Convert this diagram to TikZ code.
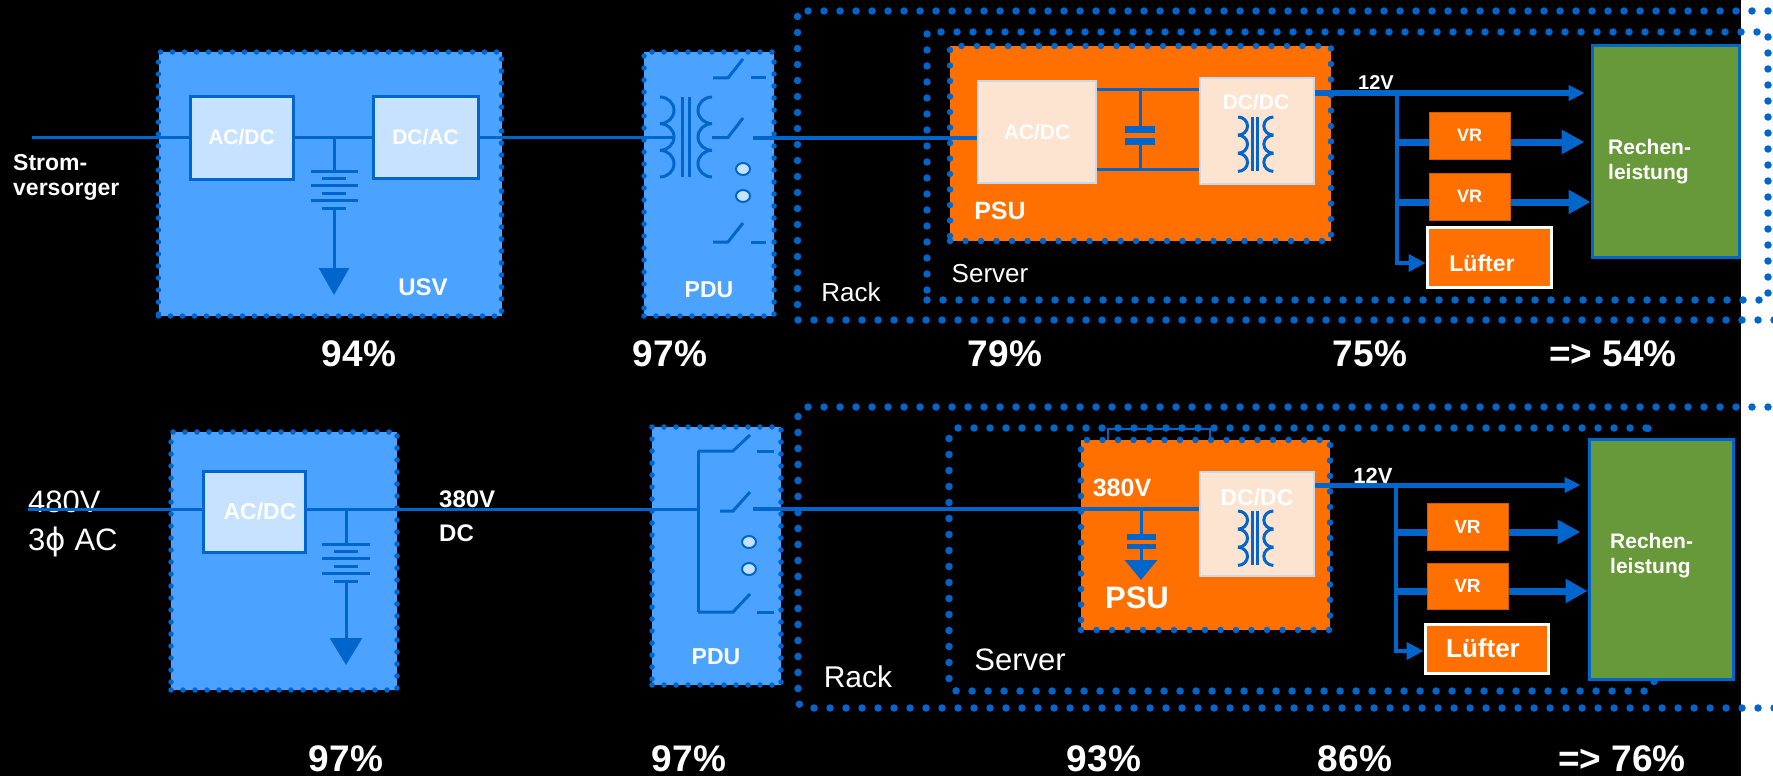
\documentclass[tikz,border=0pt]{standalone}
\usepackage{fontspec}
\setmainfont{Liberation Sans}
\newfontfamily\phifont{DejaVu Sans}
\usetikzlibrary{arrows.meta}

\definecolor{upsblue}{RGB}{75,163,255}
\definecolor{lineblue}{RGB}{0,102,204}
\definecolor{paleblue}{RGB}{198,226,255}
\definecolor{psuorange}{RGB}{255,112,0}
\definecolor{peach}{RGB}{253,228,208}
\definecolor{peachline}{RGB}{197,217,241}
\definecolor{cpugreen}{RGB}{103,153,58}

% transformer symbol: x, y of top left corner, scale
\newcommand{\trafo}[3]{%
  \begin{scope}[shift={(#1,#2)},scale=#3]
    \foreach \k in {0,1,2}{%
      \draw[wire] (0,-26.67*\k) arc[start angle=90,end angle=-90,x radius=14,y radius=13.33];
      \draw[wire] (52,-26.67*\k) arc[start angle=90,end angle=270,x radius=14,y radius=13.33];
    }
    \draw[wire] (22,0) -- (22,-80);
    \draw[wire] (29,0) -- (29,-80);
  \end{scope}}

% battery: x, y of first plate, half width of long plates
\newcommand{\battery}[3]{%
  \foreach \k in {0,1,2}{%
    \draw[wire] (#1-#3,#2-14.8*\k) -- (#1+#3,#2-14.8*\k);
    \draw[wire] (#1-12,#2-7.4-14.8*\k) -- (#1+12,#2-7.4-14.8*\k);
  }}

\begin{document}
\begin{tikzpicture}[x=1pt,y=1pt,
    wire/.style={draw=lineblue,line width=3pt},
    upsbox/.style={fill=upsblue,draw=lineblue,line width=5.5pt,dash pattern=on 0pt off 12pt,line cap=round},
    psubox/.style={fill=psuorange,draw=lineblue,line width=6.5pt,dash pattern=on 0pt off 15.5pt,line cap=round},
    housing/.style={draw=lineblue,line width=7.5pt,dash pattern=on 0pt off 16pt,line cap=round},
    conv/.style={fill=paleblue,draw=lineblue,line width=3pt},
    peachbox/.style={fill=peach,draw=peachline,line width=2pt},
    vrbox/.style={fill=psuorange,draw=psuorange!80!black,line width=1pt},
    fanbox/.style={fill=psuorange,draw=white,line width=3pt},
    cpubox/.style={fill=cpugreen,draw=lineblue,line width=3pt},
    btxt/.style={font=\fontsize{#1}{#1}\selectfont\bfseries},
    rtxt/.style={font=\fontsize{#1}{#1}\selectfont},
    pct/.style={font=\fontsize{37}{37}\selectfont\bfseries}]
\tikzstyle{every node}+=[inner sep=0pt,text=white]
  \useasboundingbox (0,0) rectangle (1773,-776);
  \fill[black] (0,0) rectangle (1741,-776);
  \fill[white] (1741,0) rectangle (1773,-776);
  \clip (0,0) rectangle (1773,-776);

  % ---------- upper row: AC distribution ----------
  \draw[housing] (1800,-11) -- (797.5,-11) -- (797.5,-320) -- (1800,-320);
  \node[housing,minimum width=841,minimum height=268] (server1) at (1347.5,-166) {};
  \node[upsbox,minimum width=343,minimum height=264] (usv1) at (330,-184) {};
  \node[upsbox,minimum width=130,minimum height=264] (pdu1) at (709,-184) {};
  \node[conv,btxt=21,minimum width=103,minimum height=83] (acdc1) at (241.5,-137.5) {AC/DC};
  \node[conv,btxt=21,minimum width=105,minimum height=82] (dcac1) at (425.5,-137.5) {DC/AC};
  \node[psubox,minimum width=381,minimum height=195] (psu1) at (1140.5,-143.5) {};
  \node[peachbox,btxt=21,minimum width=118,minimum height=102] (acdcP1) at (1037,-132) {AC/DC};
  \node[peachbox,minimum width=114,minimum height=106] (dcdcP1) at (1257,-131) {};
  \node[vrbox,btxt=18,minimum width=81,minimum height=47] (vr1a) at (1469.5,-135.5) {VR};
  \node[vrbox,btxt=18,minimum width=81,minimum height=47] (vr1b) at (1469.5,-196.5) {VR};
  \node[fanbox,minimum width=124,minimum height=60] (lf1) at (1489,-257) {};
  \node[cpubox,minimum width=147,minimum height=211] (rl1) at (1665.5,-151.5) {};

  \coordinate (src1) at (32,-137.5);
  \coordinate (bat1) at (334,-137.5);
  \coordinate (tr1in) at (674,-137.5);
  \coordinate (pdu1out) at (753,-137.5);
  \coordinate (j1) at (1397,-93);

  \draw[wire] (src1) -- (acdc1.west);
  \draw[wire] (acdc1.east) -- (dcac1.west);
  \draw[wire] (bat1) -- ++(0,-33.5);
  \battery{334}{-171}{23.5}
  \draw[wire,-{Triangle[length=27pt,width=30pt]}] (334,-208) -- (334,-295);
  \draw[wire] (dcac1.east) -- (tr1in);

  % PDU: transformer and switches
  \trafo{660}{-97}{1}
  \draw[wire] (713,-78) -- (728,-78) -- (743,-59);
  \draw[wire] (751,-78) -- (766,-78);
  \draw[wire] (712,-137.5) -- (728,-137.5) -- (743,-118);
  \draw[wire] (713,-242) -- (728,-242) -- (743,-223);
  \draw[wire] (751,-242) -- (766,-242);
  \draw[lineblue,fill=paleblue,line width=2pt] (743,-169) ellipse (7 and 6);
  \draw[lineblue,fill=paleblue,line width=2pt] (743,-196) ellipse (7 and 6);
  \draw[wire,line width=4pt] (pdu1out) -- (pdu1out -| acdcP1.west);

  % PSU
  \draw[wire] (acdcP1.east |- 0,-90) -- (dcdcP1.west |- 0,-90);
  \draw[wire] (acdcP1.east |- 0,-169) -- (dcdcP1.west |- 0,-169);
  \draw[wire] (1140,-90) -- (1140,-129);
  \draw[wire] (1140,-142) -- (1140,-169);
  \fill[lineblue] (1125,-126) rectangle (1155,-133);
  \fill[lineblue] (1125,-138) rectangle (1155,-145);
  \trafo{1238}{-117}{0.68}

  % 12V distribution
  \draw[wire,line width=5pt,shorten >=6pt,-{Triangle[length=16pt,width=15pt]}] (dcdcP1.east |- j1) -- (rl1.west |- j1);
  \draw[wire,line width=4pt,-{Triangle[length=17pt,width=17pt]}] (j1) |- ([yshift=-6pt]lf1.west);
  \draw[wire,line width=7pt] (j1 |- 0,-142) -- (vr1a.west |- 0,-142);
  \draw[wire,line width=7pt] (j1 |- 0,-202) -- (vr1b.west |- 0,-202);
  \draw[wire,line width=7pt,shorten >=6pt,-{Triangle[length=23pt,width=23pt]}] (vr1a.east |- 0,-142) -- (rl1.west |- 0,-142);
  \draw[wire,line width=7pt,-{Triangle[length=22pt,width=23pt]}] (vr1b.east |- 0,-202) -- (rl1.west |- 0,-202);

  % labels
  \node[font=\fontsize{23}{25}\selectfont\bfseries,align=left,anchor=west] (strom) at (13,-177.5) {Strom-\\versorger};
  \node[btxt=24] (usvlbl) at (423,-287) {USV};
  \node[btxt=23] (pdu1lbl) at (709,-290) {PDU};
  \node[rtxt=26] (rack1lbl) at (851,-292) {Rack};
  \node[rtxt=26] (server1lbl) at (990,-274) {Server};
  \node[btxt=25] (psu1lbl) at (1000,-211) {PSU};
  \node[btxt=21] (dcdcP1lbl) at (1256,-102) {DC/DC};
  \node[btxt=20] (v12a) at (1376,-83) {12V};
  \node[btxt=23] (lf1lbl) at (1482,-263) {Lüfter};
  \node[font=\fontsize{21}{25}\selectfont\bfseries,align=left,anchor=west] (rl1lbl) at (1608,-162) {Rechen-\\leistung};

  \node[pct] (eta1a) at (359,-354) {94\%};
  \node[pct] (eta1b) at (670,-354) {97\%};
  \node[pct] (eta1c) at (1005,-354) {79\%};
  \node[pct] (eta1d) at (1370,-354) {75\%};
  \node[pct] (eta1e) at (1613,-354) {=> 54\%};

  % ---------- lower row: 380V DC distribution ----------
  \draw[housing,rounded corners=8pt] (1800,-407) -- (798,-407) -- (798,-708) -- (1800,-708);
  \node[housing,rounded corners=8pt,minimum width=705,minimum height=263] (server2) at (1301.5,-559.5) {};
  \node[upsbox,minimum width=226,minimum height=258] (usv2) at (284,-561) {};
  \node[upsbox,minimum width=129,minimum height=258] (pdu2) at (716.5,-556) {};
  \node[conv,btxt=23,minimum width=102,minimum height=81] (acdc2) at (254,-511.5) {\hspace*{12pt}AC/DC};
  \draw[lineblue,line width=2pt] (1108,-440) |- (1210,-429) -- (1210,-440);
  \node[psubox,minimum width=249,minimum height=190] (psu2) at (1205.5,-535) {};
  \node[peachbox,minimum width=114,minimum height=104] (dcdc2) at (1257,-524) {};
  \node[vrbox,btxt=19,minimum width=81,minimum height=47] (vr2a) at (1467.5,-526.5) {VR};
  \node[vrbox,btxt=19,minimum width=81,minimum height=46] (vr2b) at (1467.5,-586) {VR};
  \node[fanbox,minimum width=123,minimum height=49] (lf2) at (1486.5,-648.5) {};
  \node[cpubox,minimum width=144,minimum height=240] (rl2) at (1661,-559) {};

  \node[font=\fontsize{31}{38}\selectfont,align=left,anchor=west] (ac480) at (28,-524) {480V\\3{\phifont ϕ} AC};

  \coordinate (src2) at (28,-509);
  \coordinate (bat2) at (346,-509);
  \coordinate (bus2) at (698,-509);
  \coordinate (pdu2out) at (753,-509);
  \coordinate (j2) at (1396,-485);

  \draw[wire] (src2) -- (src2 -| acdc2.west);
  \draw[wire] (acdc2.east |- bus2) -- (bus2);
  \draw[wire] (bat2) -- ++(0,-35);
  \battery{346}{-544}{24}
  \draw[wire,-{Triangle[length=27pt,width=32pt]}] (346,-581) -- (346,-665);

  % PDU: bus and switches
  \draw[wire] (698,-451) -- (698,-612);
  \draw[wire] (698,-451) -- (733,-451) -- (750,-435);
  \draw[wire] (757,-451) -- (774,-451);
  \draw[wire] (720,-511) -- (733,-511) -- (750,-492);
  \draw[wire] (698,-612) -- (733,-612) -- (750,-594);
  \draw[wire] (757,-612) -- (774,-612);
  \draw[lineblue,fill=paleblue,line width=2pt] (749,-542) ellipse (7 and 6);
  \draw[lineblue,fill=paleblue,line width=2pt] (749,-569) ellipse (7 and 6);
  \draw[wire,line width=4pt] (pdu2out) -- (pdu2out -| dcdc2.west);

  % PSU
  \draw[wire] (1141,-509) -- (1141,-537);
  \fill[lineblue] (1127,-534) rectangle (1156,-540);
  \fill[lineblue] (1127,-544) rectangle (1156,-549);
  \draw[wire,-{Triangle[length=20pt,width=32pt]}] (1141,-549) -- (1141,-580);
  \trafo{1238}{-511}{0.68}

  % 12V distribution
  \draw[wire,line width=5pt,shorten >=7pt,-{Triangle[length=16pt,width=15pt]}] (dcdc2.east |- j2) -- (rl2.west |- j2);
  \draw[wire,line width=4pt,-{Triangle[length=17pt,width=17pt]}] (j2) |- ([yshift=-2.5pt]lf2.west);
  \draw[wire,line width=7pt] (j2 |- 0,-532) -- (vr2a.west |- 0,-532);
  \draw[wire,line width=7pt] (j2 |- 0,-591) -- (vr2b.west |- 0,-591);
  \draw[wire,line width=7pt,shorten >=7pt,-{Triangle[length=23pt,width=23pt]}] (vr2a.east |- 0,-532) -- (rl2.west |- 0,-532);
  \draw[wire,line width=7pt,-{Triangle[length=22pt,width=23pt]}] (vr2b.east |- 0,-591) -- (rl2.west |- 0,-591);

  % labels
  \node[font=\fontsize{24}{34}\selectfont\bfseries,align=left,anchor=west] (v380) at (439,-516) {380V\\DC};
  \node[btxt=23] (pdu2lbl) at (716,-657) {PDU};
  \node[rtxt=30] (rack2lbl) at (858,-677) {Rack};
  \node[rtxt=31] (server2lbl) at (1020,-660) {Server};
  \node[btxt=25] (v380psu) at (1122,-488) {380V};
  \node[btxt=31] (psu2lbl) at (1137,-598) {PSU};
  \node[btxt=23] (dcdc2lbl) at (1257,-497) {DC/DC};
  \node[btxt=22] (v12b) at (1373,-476) {12V};
  \node[btxt=26] (lf2lbl) at (1483,-648) {Lüfter};
  \node[font=\fontsize{21}{25}\selectfont\bfseries,align=left,anchor=west] (rl2lbl) at (1610,-556) {Rechen-\\leistung};

  \node[pct] (eta2a) at (346,-759) {97\%};
  \node[pct] (eta2b) at (689,-759) {97\%};
  \node[pct] (eta2c) at (1104,-759) {93\%};
  \node[pct] (eta2d) at (1355,-759) {86\%};
  \node[pct] (eta2e) at (1622,-759) {=> 76\%};
\end{tikzpicture}
\end{document}
